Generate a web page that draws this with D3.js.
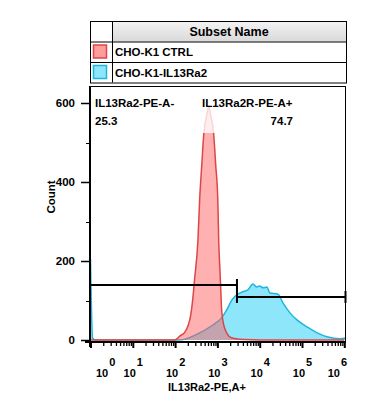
<!DOCTYPE html>
<html>
<head>
<meta charset="utf-8">
<script src="https://cdn.jsdelivr.net/npm/d3@7"></script>
<style>
  body { margin: 0; background: #fff; }
  svg text { font-family: "Liberation Sans", Arial, sans-serif; font-weight: bold; fill: #000; }
</style>
</head>
<body>
<div id="chart"></div>
<script>
const width = 367;
const height = 413;

// Legend entries
const subsets = ["CHO-K1 CTRL", "CHO-K1-IL13Ra2"];
const subsetFill = ["#ff9c9c", "#8ee6fb"];
const subsetStroke = ["#e04545", "#1fb6dd"];

// CHO-K1 CTRL histogram (intensity, count)
const ctrlX = [1, 98, 129, 170, 200, 234, 263, 288, 347, 380, 427, 479, 562, 631, 692, 813, 912, 1023, 1072, 1148, 1202, 1259, 1413, 1660, 1950, 2754, 4467, 10000, 1000000];
const ctrlY = [0, 0, 10, 20, 35, 63, 106, 152, 253, 354, 443, 524, 570, 590, 570, 524, 443, 354, 253, 177, 127, 76, 38, 18, 8, 3, 1, 0, 0];

// CHO-K1-IL13Ra2 histogram (intensity, count)
const il13X = [1, 1.12, 1.3, 129, 380, 776, 1259, 1660, 2188, 3020, 3981, 5248, 6918, 8511, 10000, 12023, 14791, 17378, 26915, 35481, 52481, 75858, 131826, 229087, 389045, 794328, 1090000];
const il13Y = [205, 5, 0, 0, 18, 38, 56, 76, 101, 116, 122, 127, 142, 134, 137, 132, 134, 119, 116, 94, 68, 51, 33, 18, 8, 3, 5];

// Gates
const gateNames = ["IL13Ra2-PE-A-", "IL13Ra2R-PE-A+"];
const gatePercents = ["25.3", "74.7"];
const gateThreshold = 2900;

// Axis ticks
const yTicks = [0, 200, 400, 600];
const yMinor = [100, 300, 500];
const xExponents = [0, 1, 2, 3, 4, 5, 6];

const svg = d3.select("#chart")
    .append("svg")
    .attr("width", width)
    .attr("height", height);

// Legend table
const tL = 90, tR = 346, tTop = 21, rowH = 20.5, colW = 22;
const defs = svg.append("defs");
const grad = defs.append("linearGradient").attr("id", "hdr").attr("x1", 0).attr("y1", 0).attr("x2", 0).attr("y2", 1);
grad.append("stop").attr("offset", "0%").attr("stop-color", "#f4f4f4");
grad.append("stop").attr("offset", "100%").attr("stop-color", "#d9d9d9");

const legend = svg.append("g");
legend.append("rect")
    .attr("x", tL + colW).attr("y", tTop)
    .attr("width", tR - tL - colW).attr("height", rowH)
    .attr("fill", "url(#hdr)");
legend.append("text")
    .attr("x", (tL + colW + tR) / 2).attr("y", tTop + 15)
    .attr("text-anchor", "middle").attr("font-size", 12.5)
    .text("Subset Name");

subsets.forEach((name, i) => {
    const ry = tTop + rowH * (i + 1);
    legend.append("rect")
        .attr("x", tL + 3.5).attr("y", ry + 3.5)
        .attr("width", 13).attr("height", 13)
        .attr("fill", subsetFill[i])
        .attr("stroke", subsetStroke[i]).attr("stroke-width", 1.5);
    legend.append("text")
        .attr("x", tL + colW + 3).attr("y", ry + 14.5)
        .attr("font-size", 11.5)
        .text(name);
});
// table grid
legend.append("rect")
    .attr("x", tL + 0.5).attr("y", tTop + 0.5)
    .attr("width", tR - tL).attr("height", rowH * 3)
    .attr("fill", "none").attr("stroke", "#000");
[1, 2].forEach(k => legend.append("line")
    .attr("x1", tL).attr("x2", tR)
    .attr("y1", tTop + rowH * k + 0.5).attr("y2", tTop + rowH * k + 0.5)
    .attr("stroke", "#000"));
legend.append("line")
    .attr("x1", tL + colW + 0.5).attr("x2", tL + colW + 0.5)
    .attr("y1", tTop).attr("y2", tTop + rowH * 3)
    .attr("stroke", "#000");

// Plot area
const pL = 90, pR = 346, pT = 86, pB = 342;

const x = d3.scaleLog()
    .domain([1, Math.pow(10, 6.04)])
    .range([pL + 0.5, pR]);

const y = d3.scaleLinear()
    .domain([0, 600])
    .range([340, 103]);

defs.append("clipPath").attr("id", "plotclip")
    .append("rect").attr("x", pL).attr("y", pT).attr("width", pR - pL).attr("height", pB - pT);

const area = d3.area()
    .x(d => x(d[0]))
    .y0(y(0))
    .y1(d => y(d[1]))
    .curve(d3.curveMonotoneX);
const line = d3.line()
    .x(d => x(d[0]))
    .y(d => y(d[1]))
    .curve(d3.curveMonotoneX);

const plot = svg.append("g").attr("clip-path", "url(#plotclip)");

const il13 = d3.zip(il13X, il13Y);
const ctrl = d3.zip(ctrlX, ctrlY);

plot.append("path").datum(il13)
    .attr("d", area).attr("fill", "#8ee6fb");
plot.append("path").datum(il13)
    .attr("d", line).attr("fill", "none")
    .attr("stroke", "#1fb6dd").attr("stroke-width", 1.5);

plot.append("path").datum(ctrl)
    .attr("d", area).attr("fill", "#ff5a5a").attr("fill-opacity", 0.48);
plot.append("path").datum(ctrl)
    .attr("d", line).attr("fill", "none")
    .attr("stroke", "#e04545").attr("stroke-width", 1.5);

// Gate labels with translucent background
const labels = svg.append("g");
function gateLabel(tx, anchorPct, pctX, name, pct) {
    const g = labels.append("g");
    const bg = g.append("rect").attr("fill", "#fff").attr("fill-opacity", 0.78);
    g.append("text").attr("x", tx).attr("y", 107).attr("font-size", 11.5).text(name);
    g.append("text").attr("x", pctX).attr("y", 125).attr("font-size", 11.5)
        .attr("text-anchor", anchorPct).text(pct);
    const b = g.node().getBBox();
    bg.attr("x", b.x - 2).attr("y", 94).attr("width", b.width + 4).attr("height", 39);
}
gateLabel(95, "start", 95, gateNames[0], gatePercents[0]);
gateLabel(202, "end", 293, gateNames[1], gatePercents[1]);

// Gate bars
const gates = svg.append("g").attr("stroke", "#000").attr("stroke-width", 2);
const gx = x(gateThreshold);
gates.append("line").attr("x1", pL).attr("x2", gx).attr("y1", 285).attr("y2", 285);
gates.append("line").attr("x1", gx).attr("x2", gx).attr("y1", 279).attr("y2", 291);
gates.append("line").attr("x1", gx).attr("x2", pR).attr("y1", 297).attr("y2", 297);
gates.append("line").attr("x1", gx).attr("x2", gx).attr("y1", 291).attr("y2", 303);
gates.append("line").attr("x1", pR - 0.5).attr("x2", pR - 0.5).attr("y1", 291).attr("y2", 303);

// Frame
svg.append("rect")
    .attr("x", pL + 0.5).attr("y", pT + 0.5)
    .attr("width", pR - pL - 1).attr("height", pB - pT)
    .attr("fill", "none").attr("stroke", "#000");

// Y axis
const yAxis = svg.append("g");
yAxis.append("line").attr("x1", pL).attr("x2", pL).attr("y1", pT).attr("y2", pB + 5)
    .attr("stroke", "#000").attr("stroke-width", 2);
yTicks.forEach(v => {
    yAxis.append("line").attr("x1", pL - 9).attr("x2", pL)
        .attr("y1", Math.round(y(v)) + 0.5).attr("y2", Math.round(y(v)) + 0.5)
        .attr("stroke", "#000").attr("stroke-width", 1.5);
    yAxis.append("text").attr("x", pL - 15).attr("y", y(v) + 4)
        .attr("text-anchor", "end").attr("font-size", 11.5).text(v);
});
yMinor.forEach(v => {
    yAxis.append("line").attr("x1", pL - 4).attr("x2", pL)
        .attr("y1", Math.round(y(v)) + 0.5).attr("y2", Math.round(y(v)) + 0.5)
        .attr("stroke", "#000");
});
svg.append("text")
    .attr("transform", "translate(55,197) rotate(-90)")
    .attr("text-anchor", "middle").attr("font-size", 11.5)
    .text("Count");

// X axis
const majors = xExponents.map(e => Math.pow(10, e));
const minors = [];
xExponents.slice(0, -1).forEach(e => d3.range(2, 10).forEach(m => minors.push(m * Math.pow(10, e))));

svg.append("g")
    .attr("transform", `translate(0,${pB})`)
    .call(d3.axisBottom(x).tickValues(minors).tickSize(4).tickFormat(""))
    .call(g => g.select(".domain").remove())
    .call(g => g.selectAll("line").attr("stroke-width", 1.3));
svg.append("g")
    .attr("transform", `translate(0,${pB})`)
    .call(d3.axisBottom(x).tickValues(majors).tickSize(6).tickFormat(""))
    .call(g => g.select(".domain").remove())
    .call(g => g.selectAll("line").attr("stroke-width", 2));
svg.append("line").attr("x1", pL - 5).attr("x2", pR).attr("y1", pB).attr("y2", pB)
    .attr("stroke", "#000").attr("stroke-width", 2);

const xl = svg.append("g");
xExponents.forEach(e => {
    const t = xl.append("text").attr("y", 377).attr("font-size", 11);
    t.append("tspan").text("10");
    t.append("tspan").attr("dy", -11).attr("dx", 1).text(e);
    const w = t.node().getComputedTextLength();
    let cx = x(Math.pow(10, e)) - w / 2;
    cx = Math.max(pL + 6, Math.min(pR - w, cx));
    t.attr("x", cx);
});
svg.append("text")
    .attr("x", 207).attr("y", 391)
    .attr("text-anchor", "middle").attr("font-size", 11)
    .text("IL13Ra2-PE,A+");
</script>
</body>
</html>
